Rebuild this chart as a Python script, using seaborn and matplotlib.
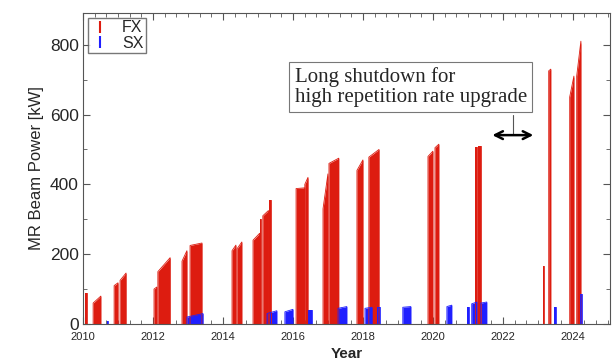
import numpy as np
import pandas as pd
import matplotlib
matplotlib.use('Agg')
import matplotlib.pyplot as plt
from matplotlib.lines import Line2D
from matplotlib.ticker import MultipleLocator
import seaborn as sns

# FX (fast extraction) run periods: start/end in years, beam power [kW] at start/end
fx_start = [2010.06, 2010.29, 2010.89, 2011.06, 2012.03, 2012.14, 2012.83, 2013.06,
            2014.26, 2014.40, 2014.86, 2015.06, 2015.14, 2015.31, 2016.09, 2016.34,
            2016.86, 2017.03, 2017.83, 2018.17, 2019.86, 2020.06, 2021.20, 2021.29,
            2023.14, 2023.31, 2023.91, 2024.11]
fx_end = [2010.11, 2010.51, 2011.00, 2011.23, 2012.11, 2012.49, 2012.97, 2013.40,
          2014.37, 2014.54, 2015.05, 2015.08, 2015.30, 2015.37, 2016.34, 2016.43,
          2017.00, 2017.31, 2018.00, 2018.46, 2020.00, 2020.17, 2021.27, 2021.37,
          2023.17, 2023.37, 2024.03, 2024.23]
fx_p0 = [90, 60, 110, 125, 100, 150, 180, 225, 210, 215, 240, 300, 310, 355, 388, 400,
         330, 460, 440, 478, 480, 505, 508, 510, 165, 725, 650, 710]
fx_p1 = [90, 80, 118, 146, 106, 190, 210, 232, 226, 235, 260, 300, 325, 355, 390, 420,
         430, 475, 470, 500, 495, 515, 508, 510, 165, 730, 710, 810]

# SX (slow extraction) run periods
sx_start = [2010.69, 2012.97, 2015.26, 2015.77, 2016.43, 2017.29, 2018.06, 2018.40,
            2019.14, 2020.40, 2020.97, 2021.11, 2021.37, 2023.46, 2024.20]
sx_end = [2010.71, 2013.43, 2015.54, 2016.00, 2016.54, 2017.54, 2018.26, 2018.49,
          2019.37, 2020.54, 2021.03, 2021.26, 2021.54, 2023.51, 2024.26]
sx_p0 = [8, 20, 30, 35, 40, 45, 45, 50, 48, 50, 48, 58, 60, 48, 85]
sx_p1 = [8, 30, 38, 42, 40, 50, 48, 50, 50, 54, 48, 63, 63, 48, 85]

red = '#dd1c10'
blue = '#1f1fff'

rows = []
for beam, s, e, a, b in [('FX', fx_start, fx_end, fx_p0, fx_p1),
                         ('SX', sx_start, sx_end, sx_p0, sx_p1)]:
    for i in range(len(s)):
        for k, (x, y) in enumerate([(s[i], 0), (s[i], a[i]), (e[i], b[i]), (e[i], 0)]):
            rows.append({'beam': beam, 'run': f'{beam}{i}', 'order': k, 'year': x, 'power': y})
df = pd.DataFrame(rows)

sns.set_theme(style='ticks')
plt.rcParams['font.family'] = ['Liberation Sans', 'DejaVu Sans']

fig = plt.figure(figsize=(6.12, 3.63), dpi=100)
ax = fig.add_axes([0.1356, 0.1074, 0.861, 0.857])

# fill each run, then outline with seaborn
for run, g in df.groupby('run'):
    c = red if run.startswith('FX') else blue
    ax.fill_between(g['year'], g['power'], 0, color=c, lw=0)
sns.lineplot(data=df, x='year', y='power', hue='beam', units='run', estimator=None,
             sort=False, palette={'FX': red, 'SX': blue}, lw=0.6, legend=False, ax=ax)

ax.set_xlim(2010, 2025.06)
ax.set_ylim(0, 891)
ax.xaxis.set_major_locator(MultipleLocator(2))
ax.xaxis.set_minor_locator(MultipleLocator(1 / 3))
ax.yaxis.set_major_locator(MultipleLocator(200))
ax.yaxis.set_minor_locator(MultipleLocator(100))
ax.tick_params(which='both', direction='in', top=True, right=True, color='#555555')
ax.tick_params(which='major', length=5, width=0.8)
ax.tick_params(which='minor', length=3, width=0.6)
ax.tick_params(axis='x', labelsize=8, pad=6)
ax.tick_params(axis='y', labelsize=12.5, pad=3)
for sp in ax.spines.values():
    sp.set_color('#555555')
    sp.set_linewidth(0.8)

ax.set_xlabel('Year', fontsize=11, fontweight='bold', labelpad=3)
ax.set_ylabel('MR Beam Power [kW]', fontsize=12, labelpad=4)

handles = [Line2D([], [], marker='|', ls='None', color=red, markersize=8, mew=1.5),
           Line2D([], [], marker='|', ls='None', color=blue, markersize=8, mew=1.5)]
ax.legend(handles, ['FX', 'SX'], loc='upper left', fontsize=11.5, frameon=True,
          fancybox=False, edgecolor='#555555', handlelength=1.2, handletextpad=0.8,
          borderpad=0.15, labelspacing=0.05, borderaxespad=0.3)

# annotation for the long shutdown
ax.text(2016.05, 679, 'Long shutdown for\nhigh repetition rate upgrade', fontsize=15,
        family='Liberation Serif', va='center', ha='left', linespacing=1.1,
        bbox=dict(boxstyle='square,pad=0.25', fc='white', ec='#777777', lw=0.8))
ax.annotate('', xy=(2021.62, 541), xytext=(2022.95, 541),
            arrowprops=dict(arrowstyle='<->', color='black', lw=1.8, mutation_scale=14))
ax.plot([2022.29, 2022.29], [541, 598], color='#555555', lw=0.8)

fig.savefig('out.png', dpi=100)
